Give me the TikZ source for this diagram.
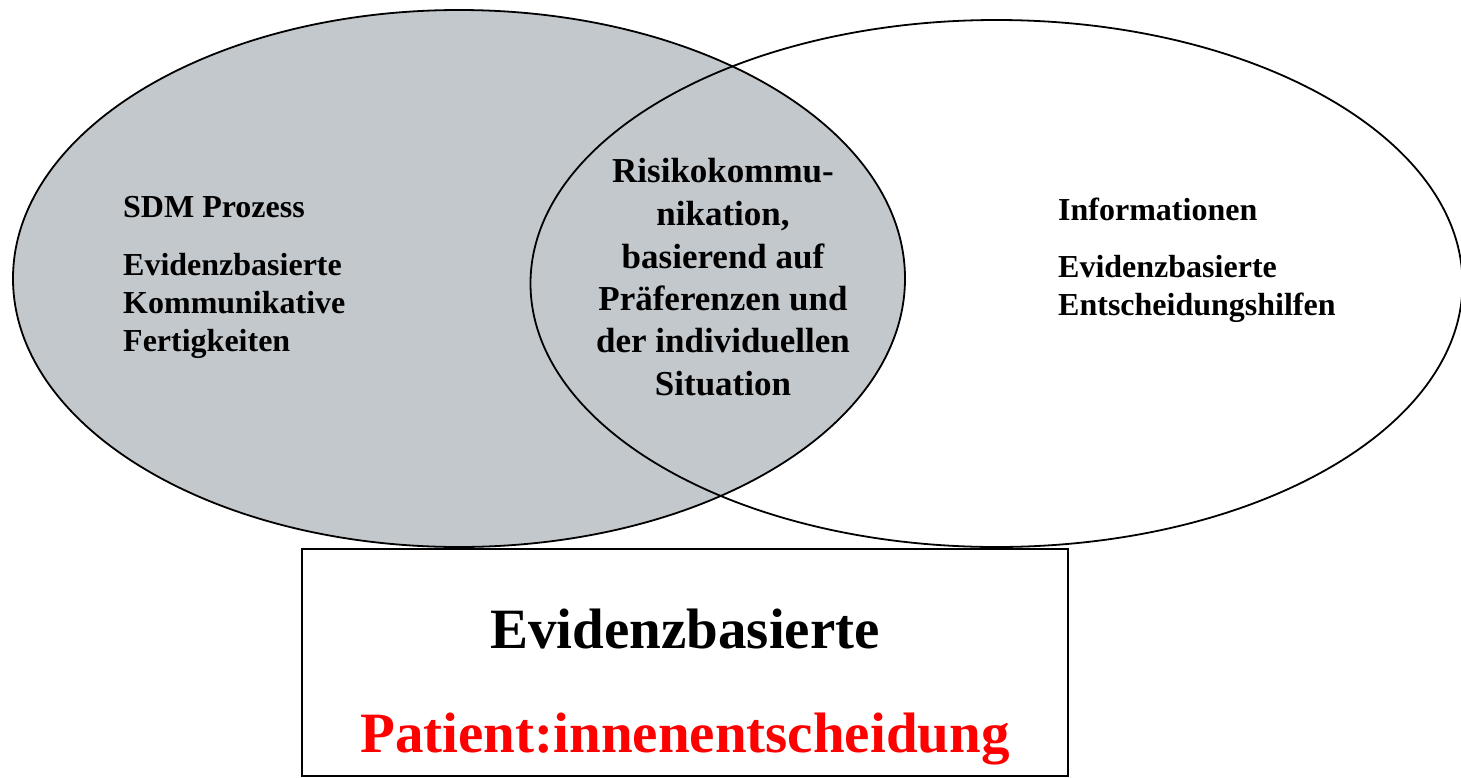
\documentclass[tikz,border=0pt]{standalone}
\usepackage{fontspec}
\setmainfont{Liberation Serif}
\definecolor{venngray}{RGB}{195,200,204}
\begin{document}
\begin{tikzpicture}[x=1pt,y=-1pt,
  outline/.style={line width=1.8pt, draw=black},
  small/.style={font=\fontsize{32}{38}\selectfont\bfseries, inner sep=0pt, anchor=base west},
  mid/.style={font=\fontsize{35}{42}\selectfont\bfseries, inner sep=0pt, anchor=base},
  big/.style={font=\fontsize{57}{68}\selectfont\bfseries, inner sep=0pt, anchor=base}]
\useasboundingbox (0,0) rectangle (1461,777);
\begin{scope}
\clip (0,0) rectangle (1461,777);
\filldraw[outline, fill=venngray] (459,278.5) ellipse [x radius=446, y radius=268.5];
\draw[outline] (996.5,283.5) ellipse [x radius=466, y radius=263.5];
\end{scope}
\node[draw, line width=1.8pt, fill=white, minimum width=766pt, minimum height=227pt, inner sep=0pt] (box) at (685,662.5) {};
% left ellipse text
\node[small] (l1) at (123,217) {SDM Prozess};
\node[small] (l2) at (123,275) {Evidenzbasierte};
\node[small] (l3) at (123,313) {Kommunikative};
\node[small] (l4) at (123,351) {Fertigkeiten};
% intersection text
\node[mid] (m1) at (723,182) {Risikokommu-};
\node[mid] (m2) at (723,225) {nikation,};
\node[mid] (m3) at (723,268) {basierend auf};
\node[mid] (m4) at (723,310) {Präferenzen und};
\node[mid] (m5) at (723,352) {der individuellen};
\node[mid] (m6) at (723,395) {Situation};
% right ellipse text
\node[small] (r1) at (1058,220) {Informationen};
\node[small] (r2) at (1058,277) {Evidenzbasierte};
\node[small] (r3) at (1058,315) {Entscheidungshilfen};
% box text
\node[big] (b1) at (685,648) {Evidenzbasierte};
\node[big, text=red] (b2) at (685,752) {Patient:innenentscheidung};
\end{tikzpicture}
\end{document}
